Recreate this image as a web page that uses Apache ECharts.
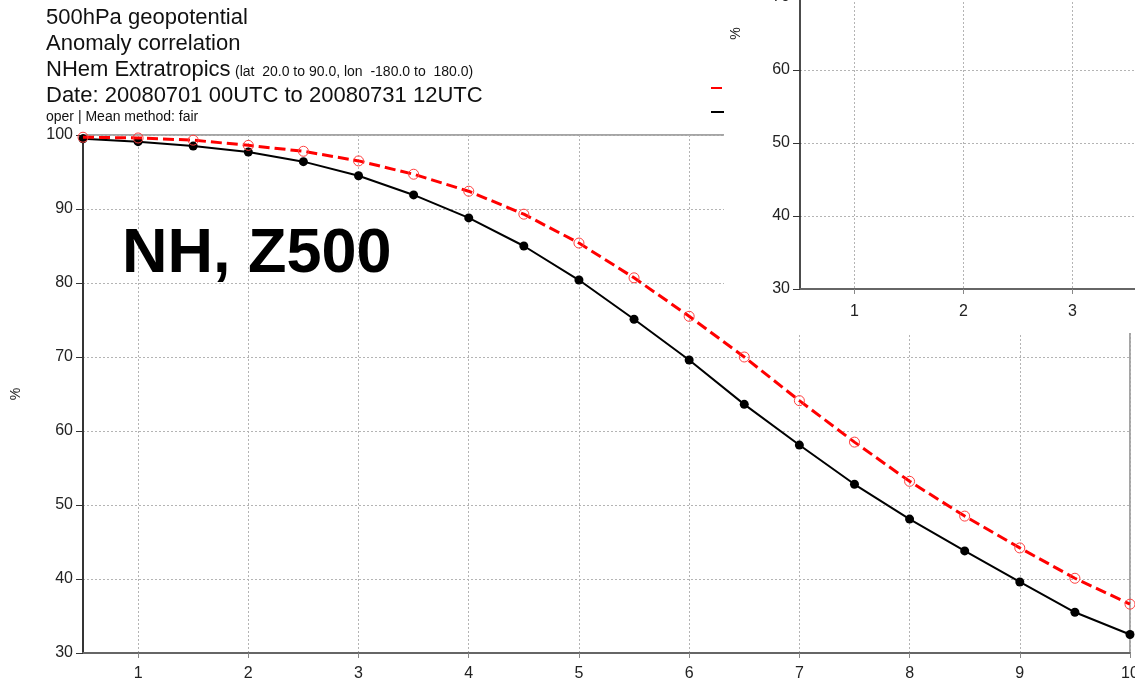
<!DOCTYPE html>
<html>

<head>
    <meta http-equiv="Content-Type" content="text/html; charset=utf-8" />
    <title>NH, Z500</title>
    <script src="https://cdn.jsdelivr.net/npm/echarts@6/dist/echarts.min.js"></script>
    <style>
        html, body { margin: 0; padding: 0; background: #fff; }
        #div1 { width: 1135px; height: 684px; }
    </style>
</head>

<body>
    <div id="div1"></div>
    <script type="text/javascript">
        // forecast step (days), every half day
        var leadTimes = ['0.5', '1', '1.5', '2', '2.5', '3', '3.5', '4', '4.5', '5',
            '5.5', '6', '6.5', '7', '7.5', '8', '8.5', '9', '9.5', '10'];
        // red dashed curve (hollow circles)
        var redValues = [99.7, 99.6, 99.3, 98.6, 97.8, 96.5, 94.7, 92.4, 89.3, 85.4,
            80.7, 75.5, 70.0, 64.1, 58.5, 53.2, 48.5, 44.2, 40.1, 36.6];
        // black solid curve (filled circles)
        var blackValues = [99.5, 99.1, 98.5, 97.7, 96.4, 94.5, 91.9, 88.8, 85.0, 80.4,
            75.1, 69.6, 63.6, 58.1, 52.8, 48.1, 43.8, 39.6, 35.5, 32.5];
        var yTicks = { min: 30, max: 100, step: 10 };

        var font = 'Liberation Sans, Arial, Helvetica, sans-serif';
        var gridLine = { show: true, interval: onlyWholeDays, lineStyle: { color: '#b4b4b4', type: [2, 2], width: 1 } };

        function onlyWholeDays(index) {
            return index % 2 === 1;
        }

        function xAxisFor(gridIndex, z, labelMargin) {
            return {
                type: 'category',
                gridIndex: gridIndex,
                z: z,
                data: leadTimes,
                boundaryGap: false,
                axisLine: { show: true, lineStyle: { color: '#666', width: 2 } },
                axisTick: { show: true, interval: onlyWholeDays, length: 5, lineStyle: { color: '#888' } },
                axisLabel: { interval: onlyWholeDays, margin: labelMargin, fontSize: 16, color: '#222', fontFamily: font },
                splitLine: gridLine
            };
        }

        function yAxisFor(gridIndex, z) {
            return {
                type: 'value',
                gridIndex: gridIndex,
                z: z,
                min: yTicks.min,
                max: yTicks.max,
                interval: yTicks.step,
                name: '%',
                nameLocation: 'middle',
                nameRotate: 90,
                nameGap: gridIndex === 0 ? 60 : 57,
                nameTextStyle: { fontSize: 14, color: '#222', fontFamily: font },
                axisLine: { show: true, lineStyle: { color: '#111', width: 1.5 } },
                axisTick: { show: true, length: 7, lineStyle: { color: '#333' } },
                axisLabel: { margin: 10, fontSize: 16, color: '#222', fontFamily: font },
                splitLine: { show: true, lineStyle: { color: '#b4b4b4', type: [2, 2], width: 1 } }
            };
        }

        var myChart = echarts.init(document.getElementById('div1'), null, { renderer: 'canvas' });

        var option = {
            animation: false,
            backgroundColor: '#fff',
            grid: [{
                left: 83, top: 135, right: 5, bottom: 31,
                outerBoundsMode: 'none', containLabel: false,
                show: true, borderColor: '#888', borderWidth: 1.5, backgroundColor: 'transparent'
            }, {
                // pasted-in piece of a second plot, top right
                left: 800, top: -222, width: 1035.5, height: 511,
                outerBoundsMode: 'none', containLabel: false,
                show: false
            }],
            legend: {
                left: 705, top: 76, orient: 'vertical',
                itemWidth: 40, itemHeight: 14, itemGap: 10,
                data: ['e-suite', 'oper'],
                textStyle: { fontSize: 14, fontFamily: font, color: '#222' }
            },
            xAxis: [xAxisFor(0, 0, 13), xAxisFor(1, 20, 15)],
            yAxis: [yAxisFor(0, 0), yAxisFor(1, 20)],
            graphic: [
                { type: 'rect', z: 10, shape: { x: 724, y: 0, width: 411, height: 333 }, style: { fill: '#fff' } },
                { type: 'text', z: 5, x: 46, y: 17.5, style: { text: '500hPa geopotential', font: '22px ' + font, fill: '#111', verticalAlign: 'middle' } },
                { type: 'text', z: 5, x: 46, y: 44, style: { text: 'Anomaly correlation', font: '22px ' + font, fill: '#111', verticalAlign: 'middle' } },
                { type: 'text', z: 5, x: 46, y: 69.5, style: { text: 'NHem Extratropics', font: '22px ' + font, fill: '#111', verticalAlign: 'middle' } },
                { type: 'text', z: 5, x: 235, y: 72, style: { text: '(lat  20.0 to 90.0, lon  -180.0 to  180.0)', font: '14px ' + font, fill: '#111', verticalAlign: 'middle' } },
                { type: 'text', z: 5, x: 46, y: 95.5, style: { text: 'Date: 20080701 00UTC to 20080731 12UTC', font: '22px ' + font, fill: '#111', verticalAlign: 'middle' } },
                { type: 'text', z: 5, x: 46, y: 117, style: { text: 'oper | Mean method: fair', font: '14px ' + font, fill: '#111', verticalAlign: 'middle' } },
                { type: 'text', z: 5, x: 122, y: 255, style: { text: 'NH, Z500', font: 'bold 63px ' + font, fill: '#000', verticalAlign: 'middle' } }
            ],
            series: [{
                name: 'oper',
                type: 'line',
                xAxisIndex: 0,
                yAxisIndex: 0,
                data: blackValues,
                clip: false,
                symbol: 'circle',
                symbolSize: 9,
                itemStyle: { color: '#000' },
                lineStyle: { color: '#000', width: 2 },
                z: 3
            }, {
                name: 'e-suite',
                type: 'line',
                xAxisIndex: 0,
                yAxisIndex: 0,
                data: redValues,
                clip: false,
                symbol: 'circle',
                symbolSize: 10,
                itemStyle: { color: 'rgba(255,255,255,0)', borderColor: '#ff4040', borderWidth: 1 },
                lineStyle: { color: '#ff0000', width: 3, type: [11, 5] },
                z: 4
            }]
        };

        myChart.setOption(option);
    </script>
</body>

</html>
